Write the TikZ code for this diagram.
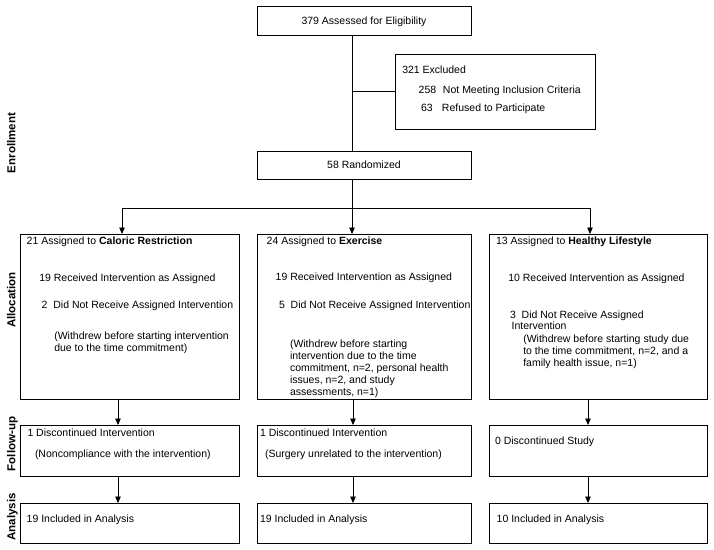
\documentclass[tikz,border=0pt]{standalone}
\usepackage{fontspec}
\setmainfont{Liberation Sans}
\usetikzlibrary{arrows.meta}
\newcommand\bodyfs{\fontsize{10.5}{12}\selectfont}
\newcommand\sidefs{\fontsize{11.5}{13}\selectfont\bfseries}
\tikzset{
  box/.style={draw=black, line width=0.8pt, inner sep=0pt, outer sep=0pt, anchor=north west},
  txt/.style={anchor=base west, inner sep=0pt, outer sep=0pt, font=\bodyfs},
  ctxt/.style={anchor=base, inner sep=0pt, outer sep=0pt, font=\bodyfs},
  side/.style={anchor=base, rotate=90, inner sep=0pt, font=\sidefs},
  conn/.style={line width=0.9pt, draw=black},
  arr/.style={conn, -{Triangle[length=6.5pt,width=5.5pt]}}
}
\begin{document}
\begin{tikzpicture}[x=1pt,y=-1pt]
\useasboundingbox[fill=white] (0,0) rectangle (714,549);

% boxes
\node[box, minimum width=214pt, minimum height=29pt] (top) at (257,6) {};
\node[box, minimum width=200pt, minimum height=75pt] (excl) at (395,54) {};
\node[box, minimum width=214pt, minimum height=28pt] (rand) at (257,151) {};
\node[box, minimum width=219pt, minimum height=165pt] (allocL) at (20,234) {};
\node[box, minimum width=214pt, minimum height=165pt] (allocM) at (257,234) {};
\node[box, minimum width=218pt, minimum height=165pt] (allocR) at (489,234) {};
\node[box, minimum width=219pt, minimum height=51pt] (follL) at (20,425) {};
\node[box, minimum width=214pt, minimum height=51pt] (follM) at (257,425) {};
\node[box, minimum width=218pt, minimum height=51pt] (follR) at (489,425) {};
\node[box, minimum width=219pt, minimum height=40pt] (anaL) at (20,503) {};
\node[box, minimum width=214pt, minimum height=40pt] (anaM) at (257,503) {};
\node[box, minimum width=218pt, minimum height=40pt] (anaR) at (489,503) {};

% side labels
\node[side] (sEnr) at (15.5,143) {Enrollment};
\node[side] (sAll) at (15.5,300) {Allocation};
\node[side] (sFol) at (15.5,444) {Follow-up};
\node[side] (sAna) at (15.5,517) {Analysis};

% texts: enrollment
\node[ctxt] (tTop) at (364,24.8) {379 Assessed for Eligibility};
\node[ctxt] (tRand) at (364,168.8) {58 Randomized};
\node[txt] (tEx1) at (402.3,73) {321 Excluded};
\node[txt] (tEx2) at (418.7,93) {\makebox[24.3pt][l]{258}Not Meeting Inclusion Criteria};
\node[txt] (tEx3) at (421,111) {\makebox[21pt][l]{63}Refused to Participate};

% allocation left
\node[txt] (tL1) at (26.7,244.5) {21 Assigned to \textbf{Caloric Restriction}};
\node[txt] (tL2) at (39.3,281) {19 Received Intervention as Assigned};
\node[txt] (tL3) at (41.7,308) {2\ \ Did Not Receive Assigned Intervention};
\node[txt] (tL4) at (54.3,339.5) {(Withdrew before starting intervention};
\node[txt] (tL5) at (54.3,351.1) {due to the time commitment)};

% allocation middle
\node[txt] (tM1) at (266.7,244.5) {24 Assigned to \textbf{Exercise}};
\node[txt] (tM2) at (275.7,280.5) {19 Received Intervention as Assigned};
\node[txt] (tM3) at (279,308) {5\ \ Did Not Receive Assigned Intervention};
\node[txt] (tM4) at (290,347.8) {(Withdrew before starting};
\node[txt] (tM5) at (290,359.6) {intervention due to the time};
\node[txt] (tM6) at (290,371.4) {commitment, n=2, personal health};
\node[txt] (tM7) at (290,383.2) {issues, n=2, and study};
\node[txt] (tM8) at (290,395) {assessments, n=1)};

% allocation right
\node[txt] (tR1) at (496,244.5) {13 Assigned to \textbf{Healthy Lifestyle}};
\node[txt] (tR2) at (508.3,281) {10 Received Intervention as Assigned};
\node[txt] (tR3) at (510,318) {3\ \ Did Not Receive Assigned};
\node[txt] (tR4) at (511.7,329.8) {Intervention};
\node[txt] (tR5) at (523.3,342) {(Withdrew before starting study due};
\node[txt] (tR6) at (523.3,354) {to the time commitment, n=2, and a};
\node[txt] (tR7) at (523.3,366) {family health issue, n=1)};

% follow-up
\node[txt] (tFL1) at (27.5,436.5) {1 Discontinued Intervention};
\node[txt] (tFL2) at (35,457) {(Noncompliance with the intervention)};
\node[txt] (tFM1) at (260,436.5) {1 Discontinued Intervention};
\node[txt] (tFM2) at (265,457) {(Surgery unrelated to the intervention)};
\node[txt] (tFR1) at (495,444.5) {0 Discontinued Study};

% analysis
\node[txt] (tAL) at (26.7,522) {19 Included in Analysis};
\node[txt] (tAM) at (260,522) {19 Included in Analysis};
\node[txt] (tAR) at (496.7,522) {10 Included in Analysis};

% connector coordinates
\coordinate (sx) at (352,0);
\coordinate (split) at (352,208);
\coordinate (aL) at (122,0);
\coordinate (aR) at (590,0);
\coordinate (bL) at (118,0);
\coordinate (bM) at (353,0);
\coordinate (bR) at (588,0);

% connectors
\draw[conn] (sx |- top.south) -- (sx |- rand.north);
\draw[conn] (sx |- excl.west) -- (excl.west);
\draw[conn] (sx |- rand.south) -- (split);
\draw[arr] (split) -- (sx |- allocM.north);
\draw[arr] (split) -| (aL |- allocL.north);
\draw[arr] (split) -| (aR |- allocR.north);

\draw[arr] (bL |- allocL.south) -- (bL |- follL.north);
\draw[arr] (bM |- allocM.south) -- (bM |- follM.north);
\draw[arr] (bR |- allocR.south) -- (bR |- follR.north);
\draw[arr] (bL |- follL.south) -- (bL |- anaL.north);
\draw[arr] (bM |- follM.south) -- (bM |- anaM.north);
\draw[arr] (bR |- follR.south) -- (bR |- anaR.north);
\end{tikzpicture}
\end{document}
